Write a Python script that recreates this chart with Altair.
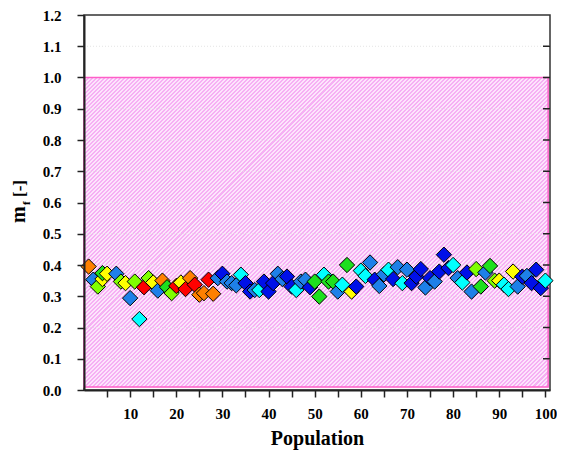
import altair as alt
import pandas as pd

# ---- data ----
population = [1, 2, 3, 4, 4, 5, 7, 8, 9, 10, 11, 12, 13, 14, 15, 16, 17, 18, 19, 20,
              21, 22, 23, 24, 25, 26, 27, 28, 29, 30, 31, 32, 33, 34, 35, 36, 37, 38, 39, 40,
              41, 42, 43, 44, 45, 46, 47, 48, 49, 50, 51, 52, 53, 54, 55, 56, 57, 58, 59, 60,
              61, 62, 63, 64, 65, 66, 67, 68, 69, 70, 71, 72, 73, 74, 75, 76, 77, 78, 79, 80,
              81, 82, 83, 84, 85, 86, 87, 88, 89, 90, 91, 92, 93, 94, 95, 96, 97, 98, 99, 100]
mf = [0.395, 0.353, 0.331, 0.355, 0.374, 0.372, 0.372, 0.347, 0.342, 0.294,
      0.347, 0.227, 0.329, 0.358, 0.344, 0.318, 0.350, 0.329, 0.310, 0.333,
      0.344, 0.323, 0.358, 0.337, 0.305, 0.310, 0.353, 0.308, 0.358, 0.372,
      0.347, 0.342, 0.335, 0.369, 0.342, 0.315, 0.320, 0.320, 0.347, 0.315,
      0.342, 0.372, 0.355, 0.363, 0.331, 0.320, 0.347, 0.353, 0.329, 0.347,
      0.299, 0.369, 0.347, 0.347, 0.315, 0.337, 0.400, 0.315, 0.331, 0.382,
      0.365, 0.408, 0.353, 0.333, 0.370, 0.385, 0.355, 0.393, 0.342, 0.385,
      0.342, 0.363, 0.387, 0.328, 0.358, 0.347, 0.379, 0.433, 0.390, 0.400,
      0.358, 0.344, 0.376, 0.315, 0.387, 0.331, 0.376, 0.397, 0.350, 0.350,
      0.337, 0.323, 0.379, 0.331, 0.363, 0.365, 0.342, 0.385, 0.326, 0.350]
group = ["orange", "dodger", "chartreuse", "yellow", "green", "yellow", "dodger", "chartreuse", "yellow", "dodger",
         "chartreuse", "cyan", "red", "chartreuse", "yellow", "dodger", "orange", "green", "chartreuse", "red",
         "yellow", "red", "orange", "red", "orange", "orange", "red", "orange", "dodger", "blue",
         "dodger", "dodger", "dodger", "cyan", "blue", "blue", "dodger", "cyan", "blue", "blue",
         "blue", "dodger", "dodger", "blue", "blue", "cyan", "dodger", "dodger", "blue", "green",
         "green", "cyan", "green", "green", "dodger", "cyan", "green", "yellow", "blue", "cyan",
         "cyan", "dodger", "blue", "dodger", "dodger", "cyan", "blue", "dodger", "cyan", "dodger",
         "blue", "blue", "blue", "dodger", "blue", "dodger", "blue", "blue", "blue", "cyan",
         "dodger", "cyan", "blue", "dodger", "chartreuse", "green", "dodger", "green", "chartreuse", "yellow",
         "cyan", "cyan", "yellow", "dodger", "blue", "dodger", "blue", "blue", "blue", "cyan"]

group_names = ["red", "orange", "yellow", "chartreuse", "green", "cyan", "dodger", "blue"]
group_colors = ["#ff0000", "#ff8000", "#ffff00", "#80ff00", "#1ee01e", "#00ffff", "#1e80e8", "#0010e8"]

y_ticks = [0.0, 0.1, 0.2, 0.3, 0.4, 0.5, 0.6, 0.7, 0.8, 0.9, 1.0, 1.1, 1.2]
grid_levels = [0.1, 0.2, 0.3, 0.4, 0.5, 0.6, 0.7, 0.8, 0.9, 1.1]
right_tick_levels = [0.1, 0.2, 0.3, 0.4, 0.5, 0.6, 0.7, 0.8, 0.9, 1.0, 1.1]
x_ticks = list(range(5, 101, 5))

zone_x = [0.0, 100.6]
zone_y = [0.01, 1.0]

# ---- layout ----
W, H = 466, 375
FONT = "Liberation Serif"

df = pd.DataFrame({"Population": population, "mf": mf, "group": group})
zone = pd.DataFrame({"x0": [zone_x[0]], "x1": [zone_x[1]], "y0": [zone_y[0]], "y1": [zone_y[1]]})
grid_df = pd.DataFrame({"g": grid_levels})
rt_df = pd.DataFrame({"g": right_tick_levels})

x_scale = alt.Scale(domain=[0, 101], nice=False, zero=False)
y_scale = alt.Scale(domain=[0, 1.2], nice=False)

x_axis = alt.Axis(values=x_ticks, format="d",
                  labelExpr="datum.value % 10 == 0 ? datum.label : ''",
                  title="Population", grid=False, zindex=1)
y_axis = alt.Axis(values=y_ticks, format=".1f", title=None, grid=False, zindex=1)

# hatch emulated with a striped linear gradient (stripes at 45 degrees)
rw = (zone_x[1] - zone_x[0]) / 101 * W
rh = (zone_y[1] - zone_y[0]) / 1.2 * H
r = rh / rw
k = (1 + r) / (1 + r * r)
N = int(round((rw + rh) / 4.0))
dark, light = "#f6b0f4", "#fde4fc"
stops = []
for i in range(N):
    a = i / N
    b = (i + 0.5) / N
    c = min((i + 1) / N, 1.0)
    stops += [{"offset": a, "color": dark}, {"offset": b, "color": dark},
              {"offset": b, "color": light}, {"offset": c, "color": light}]
hatch = {"gradient": "linear", "stops": stops, "x1": 0, "y1": 0, "x2": k, "y2": k * r}

rect = alt.Chart(zone).mark_rect(fill=hatch, stroke="#ff5fc8", strokeWidth=1.5).encode(
    x=alt.X("x0:Q", scale=x_scale, axis=x_axis),
    x2="x1:Q",
    y=alt.Y("y0:Q", scale=y_scale, axis=y_axis),
    y2="y1:Q",
)

grid = alt.Chart(grid_df).mark_rule(color="#e4e4e4", strokeDash=[1, 2], strokeWidth=1).encode(
    y=alt.Y("g:Q", scale=y_scale, axis=y_axis),
    x=alt.value(0), x2=alt.value(W),
)

right_ticks = alt.Chart(rt_df).mark_rule(color="#222", strokeWidth=1.5).encode(
    y=alt.Y("g:Q", scale=y_scale, axis=y_axis),
    x=alt.value(W - 7), x2=alt.value(W),
)

points = alt.Chart(df).mark_point(
    shape="diamond", filled=True, size=235, stroke="black", strokeWidth=1, opacity=1
).encode(
    x=alt.X("Population:Q", scale=x_scale, axis=x_axis),
    y=alt.Y("mf:Q", scale=y_scale, axis=y_axis),
    fill=alt.Fill("group:N", scale=alt.Scale(domain=group_names, range=group_colors), legend=None),
)

title_m = alt.Chart(pd.DataFrame({"t": ["m"]})).mark_text(
    font=FONT, fontWeight="bold", fontSize=20, angle=270, align="left", baseline="alphabetic", color="black"
).encode(text="t:N", x=alt.value(-59), y=alt.value(208))

title_f = alt.Chart(pd.DataFrame({"t": ["f"]})).mark_text(
    font=FONT, fontWeight="bold", fontSize=11, angle=270, align="left", baseline="alphabetic", color="black"
).encode(text="t:N", x=alt.value(-54), y=alt.value(190))

title_u = alt.Chart(pd.DataFrame({"t": ["[-]"]})).mark_text(
    font=FONT, fontWeight="bold", fontSize=17, angle=270, align="left", baseline="alphabetic", color="black"
).encode(text="t:N", x=alt.value(-59), y=alt.value(182))

chart = alt.layer(rect, grid, right_ticks, points, title_m, title_f, title_u).properties(
    width=W, height=H,
    autosize=alt.AutoSizeParams(type="none"),
    padding={"left": 76, "top": 7, "right": 7, "bottom": 61},
).configure_view(
    stroke="#333", strokeWidth=1.5
).configure_axis(
    labelFont=FONT, labelFontWeight="bold", labelFontSize=15, labelColor="black",
    titleFont=FONT, titleFontWeight="bold", titleFontSize=20, titleColor="black",
    domainColor="#222", domainWidth=2, tickColor="#222", tickWidth=1.5, tickSize=7,
).configure_axisX(
    labelPadding=9, titlePadding=7, labelFlush=False,
).configure_axisY(
    labelPadding=16,
)

chart.save("out.html", embed_options={"renderer": "svg", "actions": False})
